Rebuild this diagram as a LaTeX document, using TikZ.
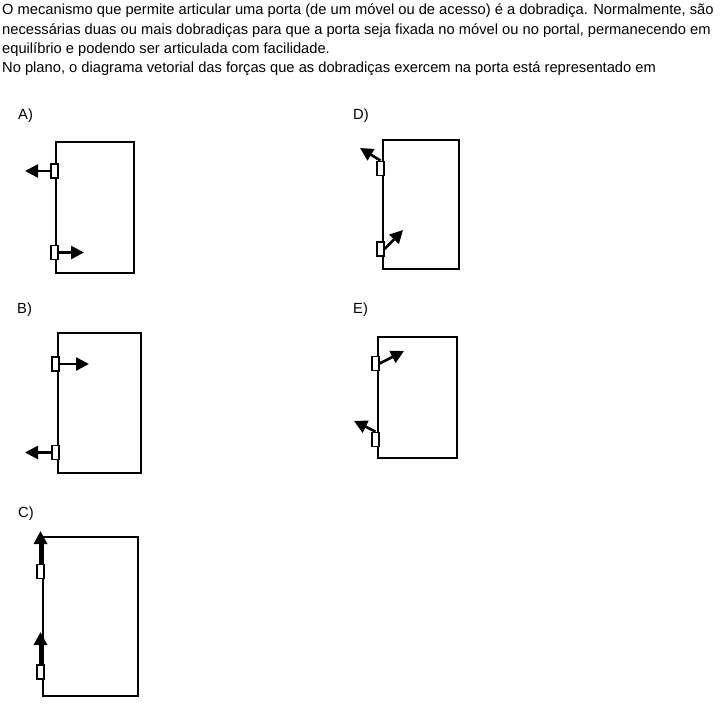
\documentclass[tikz,border=0pt]{standalone}
\usepackage{fontspec}
\setmainfont{Liberation Sans}
\usetikzlibrary{arrows.meta}

\begin{document}
\begin{tikzpicture}[x=1pt,y=-1pt,
    txt/.style={anchor=base west,inner sep=0pt,font=\fontsize{14.7}{18}\selectfont},
    door/.style={draw,line width=2.3pt},
    hinge/.style={draw,fill=white,line width=1.8pt,inner sep=0pt,minimum width=6.5pt,minimum height=14pt},
    force/.style={line width=2.6pt,-{Triangle[length=13pt,width=13pt]}}]
        \useasboundingbox (0,0) rectangle (720,704);

        % enunciado
        \node [txt] (l1) at (2,14.5) {O mecanismo que permite articular uma porta (de um móvel ou de acesso) é a dobradiça. Normalmente, são};
        \node [txt] (l2) at (2,34) {necessárias duas ou mais dobradiças para que a porta seja fixada no móvel ou no portal, permanecendo em};
        \node [txt] (l3) at (2,53) {equilíbrio e podendo ser articulada com facilidade.};
        \node [txt] (l4) at (2,72) {No plano, o diagrama vetorial das forças que as dobradiças exercem na porta está representado em};

        % A)
        \node [txt] (la) at (18,119) {A)};
        \draw [door] (56,142) rectangle (134,273);
        \node [hinge] (ha1) at (54.5,171) {};
        \node [hinge] (ha2) at (54.5,252.5) {};
        \coordinate (fa1) at (25,171);
        \coordinate (fa2) at (84,252.5);
        \draw [force] (ha1.west) -- (fa1);
        \draw [force] (ha2.east) -- (fa2);

        % B)
        \node [txt] (lb) at (17,313) {B)};
        \draw [door] (58,333) rectangle (141,473);
        \node [hinge] (hb1) at (55.5,364) {};
        \node [hinge] (hb2) at (55.5,452.5) {};
        \coordinate (fb1) at (89,364);
        \coordinate (fb2) at (25,452.5);
        \draw [force] (hb1.east) -- (fb1);
        \draw [force] (hb2.west) -- (fb2);

        % C)
        \node [txt] (lc) at (18,517) {C)};
        \draw [door] (43,537) rectangle (138,696);
        \node [hinge] (hc1) at (40.5,571.5) {};
        \node [hinge] (hc2) at (40.5,672) {};
        \coordinate (fc1) at (40.5,531);
        \coordinate (fc2) at (40.5,632);
        \draw [force,line width=3.4pt] (hc1.north) -- (fc1);
        \draw [force,line width=3.4pt] (hc2.north) -- (fc2);

        % D)
        \node [txt] (ld) at (353,119) {D)};
        \draw [door] (383,140) rectangle (459,269);
        \node [hinge] (hd1) at (380.5,168.5) {};
        \node [hinge] (hd2) at (380.5,249) {};
        \coordinate (fd1) at (360,148);
        \coordinate (fd2) at (403,230);
        \draw [force] (hd1.north) -- (fd1);
        \draw [force] (hd2.east) -- (fd2);

        % E)
        \node [txt] (le) at (353,313) {E)};
        \draw [door] (378,337) rectangle (457,458);
        \node [hinge] (he1) at (375.5,363.5) {};
        \node [hinge] (he2) at (375.5,439.5) {};
        \coordinate (fe1) at (404,351);
        \coordinate (fe2) at (354,421);
        \draw [force] (he1.east) -- (fe1);
        \draw [force] (he2.north) -- (fe2);
    \end{tikzpicture}
\end{document}
